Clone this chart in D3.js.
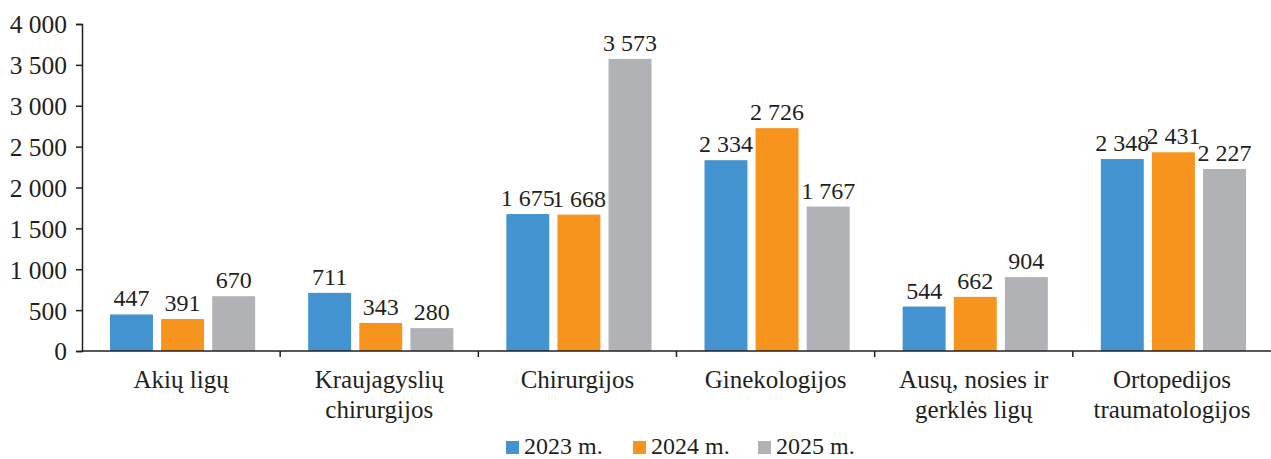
<!DOCTYPE html>
<html>
<head>
<meta charset="utf-8">
<script src="https://cdn.jsdelivr.net/npm/d3@7"></script>
<style>
  body { margin: 0; background: #fff; }
  svg text { font-family: "Liberation Serif", "DejaVu Serif", serif !important; fill: #231f20; }
</style>
</head>
<body>
<div id="chart"></div>
<script>
// Duomenys
const categories = [
    ["Akių ligų"],
    ["Kraujagyslių", "chirurgijos"],
    ["Chirurgijos"],
    ["Ginekologijos"],
    ["Ausų, nosies ir", "gerklės ligų"],
    ["Ortopedijos", "traumatologijos"]
];
const seriesNames = ["2023 m.", "2024 m.", "2025 m."];
const values2023 = [447, 711, 1675, 2334, 544, 2348];
const values2024 = [391, 343, 1668, 2726, 662, 2431];
const values2025 = [670, 280, 3573, 1767, 904, 2227];
const yTicks = [0, 500, 1000, 1500, 2000, 2500, 3000, 3500, 4000];

const colors = ["#4293d0", "#f7941d", "#b1b2b6"];
const width = 1271, height = 459;
const margin = { top: 24, right: 0, bottom: 108, left: 82 };

const svg = d3.select("#chart").append("svg")
    .attr("width", width)
    .attr("height", height)
    .attr("font-family", "Liberation Serif, serif");

const fmt = v => d3.format(",")(v).replace(/,/g, " ");

const x = d3.scaleBand()
    .domain(d3.range(categories.length))
    .range([margin.left, width - margin.right])
    .paddingInner(0)
    .paddingOuter(0);

const xInner = d3.scaleBand()
    .domain(d3.range(seriesNames.length))
    .range([28, x.bandwidth() - 25])
    .paddingInner(0.16);

const y = d3.scaleLinear()
    .domain([0, 4000])
    .range([height - margin.bottom, margin.top]);

const series = [values2023, values2024, values2025];

// Stulpeliai
series.forEach((vals, s) => {
    const g = svg.append("g");
    g.selectAll("rect")
        .data(vals)
        .join("rect")
        .attr("x", (d, i) => x(i) + xInner(s))
        .attr("y", d => y(d))
        .attr("width", xInner.bandwidth())
        .attr("height", d => y(0) - y(d))
        .attr("fill", colors[s]);

    g.selectAll("text")
        .data(vals)
        .join("text")
        .attr("x", (d, i) => x(i) + xInner(s) + xInner.bandwidth() / 2)
        .attr("y", d => y(d) - 8)
        .attr("text-anchor", "middle")
        .style("font-size", "24px")
        .text(d => fmt(d));
});

// Y ašis
const yAxis = svg.append("g")
    .attr("transform", `translate(${margin.left},0)`)
    .call(d3.axisLeft(y).tickValues(yTicks).tickFormat(fmt).tickSize(6).tickPadding(9));
yAxis.attr("font-family", null);
yAxis.select(".domain").attr("stroke", "#231f20").attr("stroke-width", 1.5);
yAxis.selectAll(".tick line").attr("stroke", "#231f20").attr("stroke-width", 1.5);
yAxis.selectAll(".tick text")
    .style("font-size", "25.5px")
    .attr("fill", "#231f20")
    .attr("dy", "0.35em");

// X ašis
const xAxisG = svg.append("g").attr("transform", `translate(0,${y(0)})`);
xAxisG.append("line")
    .attr("x1", margin.left).attr("x2", width)
    .attr("stroke", "#231f20").attr("stroke-width", 1.5);
xAxisG.selectAll("line.tick")
    .data(d3.range(1, categories.length))
    .join("line")
    .attr("class", "tick")
    .attr("x1", i => x(i)).attr("x2", i => x(i))
    .attr("y1", 0).attr("y2", 6)
    .attr("stroke", "#231f20").attr("stroke-width", 1.5);

categories.forEach((lines, i) => {
    const t = xAxisG.append("text")
        .attr("x", x(i) + x.bandwidth() / 2)
        .attr("y", 37)
        .attr("text-anchor", "middle")
        .style("font-size", "25px");
    lines.forEach((ln, k) => {
        t.append("tspan")
            .attr("x", x(i) + x.bandwidth() / 2)
            .attr("dy", k === 0 ? 0 : 30)
            .text(ln);
    });
});

// Legenda
const legendX = [506, 633, 758];
const legend = svg.append("g");
seriesNames.forEach((name, s) => {
    legend.append("rect")
        .attr("x", legendX[s]).attr("y", 441)
        .attr("width", 13).attr("height", 13)
        .attr("fill", colors[s]);
    legend.append("text")
        .attr("x", legendX[s] + 18).attr("y", 454)
        .style("font-size", "24px")
        .text(name);
});
</script>
</body>
</html>
